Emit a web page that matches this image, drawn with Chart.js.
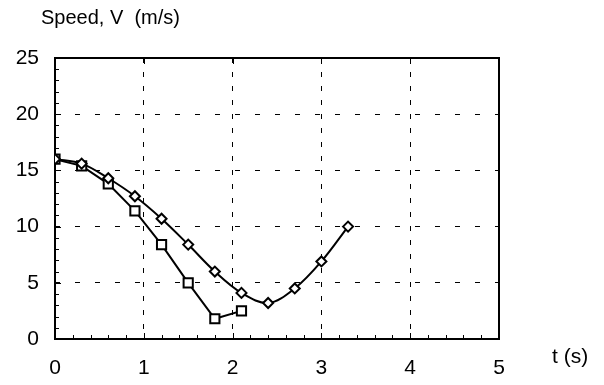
<!DOCTYPE html>
<html>
<head>
<meta charset="utf-8">
<script src="https://cdn.jsdelivr.net/npm/chart.js@4.4.1/dist/chart.umd.min.js"></script>
<style>
  html, body { margin: 0; padding: 0; background: #fff; }
  #wrap { position: relative; width: 604px; height: 385px; }
</style>
</head>
<body>
<div id="wrap"><canvas id="speed"></canvas></div>
<script>
// sample times (s) and measured speeds (m/s)
const times = [0, 0.3, 0.6, 0.9, 1.2, 1.5, 1.8, 2.1, 2.4, 2.7, 3.0, 3.3];
const diamondSpeeds = [16.0, 15.6, 14.3, 12.7, 10.7, 8.4, 6.0, 4.1, 3.2, 4.5, 6.9, 10.0];
const squareSpeeds = [16.0, 15.4, 13.8, 11.4, 8.4, 5.0, 1.8, 2.5];
const xTicks = [0, 1, 2, 3, 4, 5];
const yTicks = [0, 5, 10, 15, 20, 25];
const yTitle = 'Speed, V  (m/s)';
const xTitle = 't (s)';

const FONT = "'Liberation Sans', Arial, sans-serif";
Chart.defaults.font.family = FONT;
Chart.defaults.color = '#000';

function toPoints(ys) {
    return ys.map((y, i) => ({ x: times[i], y: y }));
}

// frame, inward tick marks and the two axis captions
const framePlugin = {
    id: 'frame',
    beforeDatasetsDraw: (chart) => {
        const ctx = chart.ctx;
        const a = chart.chartArea;
        const xs = chart.scales.x;
        const ys = chart.scales.y;
        ctx.save();
        ctx.strokeStyle = '#000';
        ctx.lineWidth = 1;
        ctx.beginPath();
        // minor every 0.2 s, major every 1 s
        for (let t = 0; t <= 25; t++) {
            const px = Math.round(xs.getPixelForValue(t * 0.2)) + 0.5;
            const len = t % 5 === 0 ? 6 : 4;
            ctx.moveTo(px, a.bottom);
            ctx.lineTo(px, a.bottom - len);
            if (t % 5 === 0) {
                ctx.moveTo(px, a.top);
                ctx.lineTo(px, a.top + len);
            }
        }
        for (let v = 0; v <= 25; v++) {
            const py = Math.round(ys.getPixelForValue(v)) + 0.5;
            const len = v % 5 === 0 ? 6 : 4;
            ctx.moveTo(a.left, py);
            ctx.lineTo(a.left + len, py);
        }
        ctx.stroke();
        ctx.lineWidth = 2;
        ctx.strokeRect(a.left, a.top, a.right - a.left, a.bottom - a.top);

        ctx.fillStyle = '#000';
        ctx.font = '20px ' + FONT;
        ctx.textBaseline = 'middle';
        ctx.textAlign = 'left';
        ctx.fillText(yTitle, 41, 18);
        ctx.font = '21px ' + FONT;
        ctx.fillText(xTitle, 552, 357);
        ctx.restore();
    }
};

new Chart(document.getElementById('speed'), {
    type: 'line',
    data: {
        datasets: [
            {
                data: toPoints(diamondSpeeds),
                borderColor: '#000',
                borderWidth: 2,
                tension: 0.35,
                pointStyle: 'rectRot',
                pointRadius: 5,
                pointBorderWidth: 2,
                pointBackgroundColor: '#fff',
                pointBorderColor: '#000'
            },
            {
                data: toPoints(squareSpeeds),
                borderColor: '#000',
                borderWidth: 2,
                tension: 0,
                pointStyle: 'rect',
                pointRadius: 6.5,
                pointBorderWidth: 2,
                pointBackgroundColor: '#fff',
                pointBorderColor: '#000'
            }
        ]
    },
    options: {
        responsive: true,
        maintainAspectRatio: false,
        animation: false,
        layout: { padding: { top: 58, right: 105, left: 0, bottom: 0 } },
        plugins: { legend: { display: false }, tooltip: { enabled: false } },
        scales: {
            x: {
                type: 'linear',
                min: 0,
                max: 5,
                afterFit: (s) => { s.height = 46; },
                afterBuildTicks: (s) => { s.ticks = xTicks.map(v => ({ value: v })); },
                ticks: { padding: 17, font: { size: 21 } },
                grid: { color: '#000', lineWidth: 1, drawTicks: false },
                border: { display: false, dash: [5, 9] }
            },
            y: {
                min: 0,
                max: 25,
                afterFit: (s) => { s.width = 55; },
                afterBuildTicks: (s) => { s.ticks = yTicks.map(v => ({ value: v })); },
                ticks: { padding: 16, font: { size: 21 } },
                grid: { color: '#000', lineWidth: 1, drawTicks: false },
                border: { display: false, dash: [5, 15] }
            }
        }
    },
    plugins: [framePlugin]
});
</script>
</body>
</html>
